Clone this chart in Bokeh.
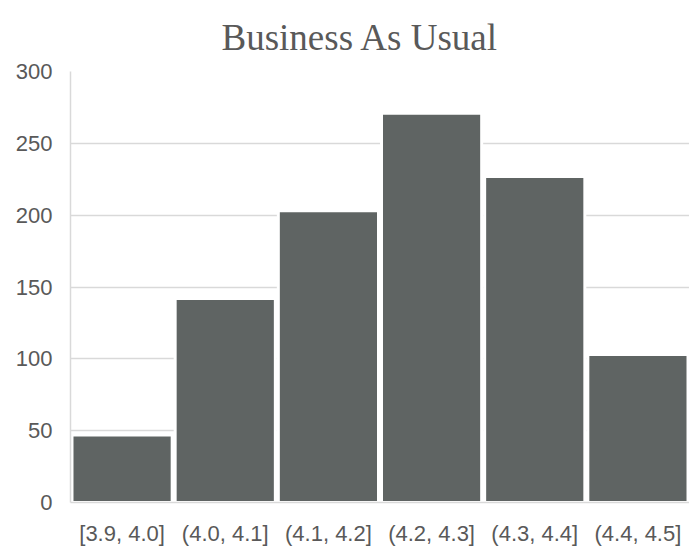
from bokeh.plotting import figure
from bokeh.models import Range1d, FixedTicker
from bokeh.embed import file_html
from bokeh.resources import INLINE

# Histogram bins and their counts
bins = ["[3.9, 4.0]", "(4.0, 4.1]", "(4.1, 4.2]", "(4.2, 4.3]", "(4.3, 4.4]", "(4.4, 4.5]"]
counts = [47, 142, 203, 271, 227, 103]
y_ticks = [0, 50, 100, 150, 200, 250, 300]

TEXT = "#595959"
GRID = "#d9d9d9"
BAR = "#5f6463"

p = figure(
    x_range=bins,
    y_range=Range1d(0, 300),
    width=689,
    height=548,
    output_backend="svg",
    toolbar_location=None,
    min_border_left=70,
    min_border_right=0,
    min_border_top=71,
    min_border_bottom=46,
)

p.title.text = "Business As Usual"
p.title.align = "left"
p.title.offset = 151
p.title.text_font = "Liberation Serif"
p.title.text_font_size = "37px"
p.title.text_font_style = "normal"
p.title.text_color = TEXT
p.title.standoff = 28

p.vbar(x=bins, top=counts, width=0.971, fill_color=BAR, line_color="white", line_width=3)

p.outline_line_color = None
p.background_fill_color = "white"
p.border_fill_color = "white"

p.xgrid.grid_line_color = None
p.ygrid.grid_line_color = GRID
p.ygrid.grid_line_width = 1.5
p.yaxis.ticker = FixedTicker(ticks=y_ticks)

for ax in (p.xaxis[0], p.yaxis[0]):
    ax.axis_line_color = GRID
    ax.axis_line_width = 1.5
    ax.major_tick_line_color = None
    ax.minor_tick_line_color = None
    ax.major_tick_out = 0
    ax.major_tick_in = 0
    ax.major_label_text_font = "Liberation Sans"
    ax.major_label_text_font_size = "22px"
    ax.major_label_text_color = TEXT
    ax.major_label_standoff = 18

open("out.html", "w").write(file_html(p, INLINE))
